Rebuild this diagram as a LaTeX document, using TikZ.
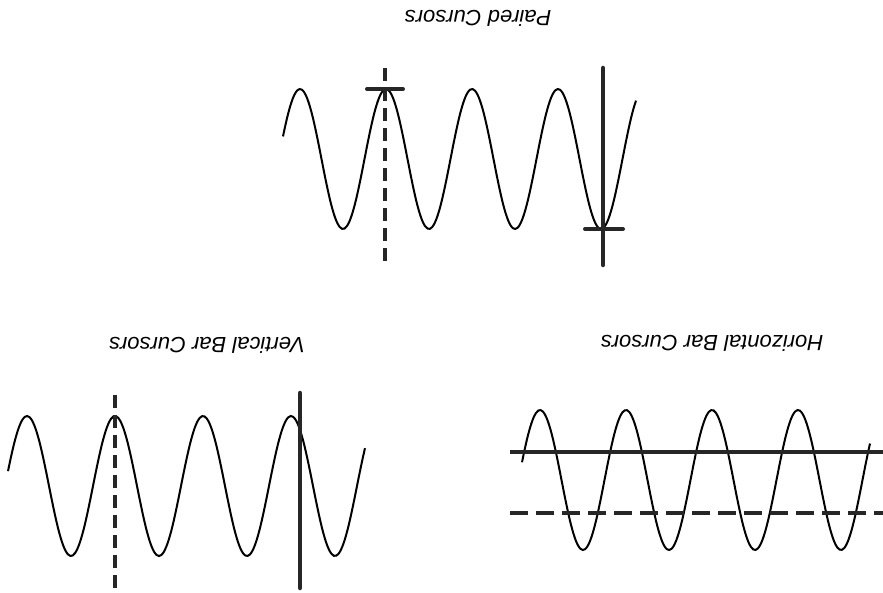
\documentclass[tikz,border=0pt]{standalone}
\usepackage{fontspec}
\setmainfont{Liberation Sans}
\usepackage{tikz}
\usetikzlibrary{positioning, calc}
\tikzset{
    wave/.style={line width=2pt, black},
    cursor/.style={line width=4.5pt, black!85, line cap=round},
    dcursor/.style={line width=4pt, black!85, dash pattern=on 13pt off 7pt},
    hdcursor/.style={line width=4pt, black!85, dash pattern=on 18pt off 8pt},
    title/.style={rotate=180, font=\fontsize{22}{26}\selectfont\itshape},
}
\begin{document}
\begin{tikzpicture}[x=1pt, y=-1pt]
    \useasboundingbox (0,0) rectangle (883,593);
    % paired cursors
    \node[title] (pairedT) at (478,18) {Paired Cursors};
    \draw[wave] plot[domain=283:636, samples=150, smooth] (\x, {159-70*cos(4.18605*(\x-300))});
    \coordinate (pA1) at (385,68);  \coordinate (pA2) at (385,265);
    \coordinate (pB1) at (603,68);  \coordinate (pB2) at (603,265);
    \draw[dcursor] (pA1) -- (pA2);
    \draw[cursor] (pB1) -- (pB2);
    \draw[cursor, line width=4pt] (367,89) -- (403,89);
    \draw[cursor, line width=4pt] (585,229) -- (623,229);
    % vertical bar cursors
    \node[title] (vertT) at (207,345) {Vertical Bar Cursors};
    \draw[wave] plot[domain=8:365, samples=150, smooth] (\x, {486-70*cos(4.09091*(\x-115))});
    \coordinate (vA1) at (115,395); \coordinate (vA2) at (115,592);
    \coordinate (vB1) at (300,393); \coordinate (vB2) at (300,588);
    \draw[dcursor] (vA1) -- (vA2);
    \draw[cursor] (vB1) -- (vB2);
    % horizontal bar cursors
    \node[title] (horT) at (712,343) {Horizontal Bar Cursors};
    \draw[wave] plot[domain=522:870, samples=150, smooth] (\x, {480-70*cos(4.18605*(\x-540))});
    \coordinate (hA1) at (510,452); \coordinate (hA2) at (883,452);
    \coordinate (hB1) at (510,513); \coordinate (hB2) at (883,513);
    \draw[cursor, line cap=butt] (hA1) -- (hA2);
    \draw[hdcursor] (hB1) -- (hB2);
\end{tikzpicture}
\end{document}
